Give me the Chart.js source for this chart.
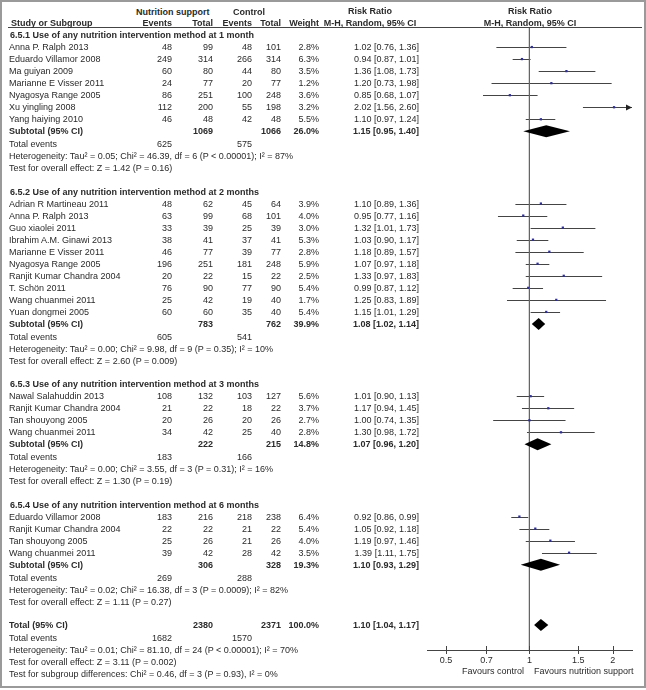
<!DOCTYPE html>
<html>
<head>
<meta charset="utf-8">
<script src="https://cdn.jsdelivr.net/npm/chart.js@4/dist/chart.umd.min.js"></script>
<style>
  body { margin: 0; background: #fff; }
  #wrap { position: relative; width: 646px; height: 690px; overflow: hidden; font-family: "Liberation Sans", Arial, sans-serif; font-size: 9px; color: #2a2a2a; }
  #frame { position: absolute; left: 0; top: 0; width: 642px; height: 684px; border: 2px solid #9a9a9a; }
  #hline { position: absolute; left: 8px; top: 27px; width: 634px; height: 1px; background: #444; }
  .t { position: absolute; height: 12px; line-height: 12px; white-space: nowrap; }
  .b { font-weight: bold; }
  #plot { position: absolute; left: 420px; top: 0; }
</style>
</head>
<body>
<div id="wrap">
  <div id="frame"></div>
  <div id="hline"></div>
  <div id="plot"><canvas id="forest" width="226" height="690"></canvas></div>
</div>
<script>
// ── data ──
const groupTitles = [
  '6.5.1 Use of any nutrition intervention method at 1 month',
  '6.5.2 Use of any nutrition intervention method at 2 months',
  '6.5.3 Use of any nutrition intervention method at 3 months',
  '6.5.4 Use of any nutrition intervention method at 6 months',
];
const studyGroup = [0,0,0,0,0,0,0, 1,1,1,1,1,1,1,1,1,1, 2,2,2,2, 3,3,3,3];
const studyNames = [
  'Anna P. Ralph 2013', 'Eduardo Villamor 2008', 'Ma guiyan 2009', 'Marianne E Visser 2011',
  'Nyagosya Range 2005', 'Xu yingling 2008', 'Yang haiying 2010',
  'Adrian R Martineau 2011', 'Anna P. Ralph 2013', 'Guo xiaolei 2011', 'Ibrahim A.M. Ginawi 2013',
  'Marianne E Visser 2011', 'Nyagosya Range 2005', 'Ranjit Kumar Chandra 2004', 'T. Schön 2011',
  'Wang chuanmei  2011', 'Yuan dongmei 2005',
  'Nawal Salahuddin 2013', 'Ranjit Kumar Chandra 2004', 'Tan shouyong 2005', 'Wang chuanmei  2011',
  'Eduardo Villamor 2008', 'Ranjit Kumar Chandra 2004', 'Tan shouyong 2005', 'Wang chuanmei  2011',
];
const nsEvents = [48, 249, 60, 24, 86, 112, 46,  48, 63, 33, 38, 46, 196, 20, 76, 25, 60,  108, 21, 20, 34,  183, 22, 25, 39];
const nsTotal  = [99, 314, 80, 77, 251, 200, 48,  62, 99, 39, 41, 77, 251, 22, 90, 42, 60,  132, 22, 26, 42,  216, 22, 26, 42];
const ctEvents = [48, 266, 44, 20, 100, 55, 42,  45, 68, 25, 37, 39, 181, 15, 77, 19, 35,  103, 18, 20, 25,  218, 21, 21, 28];
const ctTotal  = [101, 314, 80, 77, 248, 198, 48,  64, 101, 39, 41, 77, 248, 22, 90, 40, 40,  127, 22, 26, 40,  238, 22, 26, 42];
const weights  = ['2.8%','6.3%','3.5%','1.2%','3.6%','3.2%','5.5%',
  '3.9%','4.0%','3.0%','5.3%','2.8%','5.9%','2.5%','5.4%','1.7%','5.4%',
  '5.6%','3.7%','2.7%','2.8%',  '6.4%','5.4%','4.0%','3.5%'];
const rr   = [1.02, 0.94, 1.36, 1.20, 0.85, 2.02, 1.10,  1.10, 0.95, 1.32, 1.03, 1.18, 1.07, 1.33, 0.99, 1.25, 1.15,  1.01, 1.17, 1.00, 1.30,  0.92, 1.05, 1.19, 1.39];
const ciLo = [0.76, 0.87, 1.08, 0.73, 0.68, 1.56, 0.97,  0.89, 0.77, 1.01, 0.90, 0.89, 0.97, 0.97, 0.87, 0.83, 1.01,  0.90, 0.94, 0.74, 0.98,  0.86, 0.92, 0.97, 1.11];
const ciHi = [1.36, 1.01, 1.73, 1.98, 1.07, 2.60, 1.24,  1.36, 1.16, 1.73, 1.17, 1.57, 1.18, 1.83, 1.12, 1.89, 1.29,  1.13, 1.45, 1.35, 1.72,  0.99, 1.18, 1.46, 1.75];

const subNsTotal  = [1069, 783, 222, 306];
const subCtTotal  = [1066, 762, 215, 328];
const subWeight   = ['26.0%', '39.9%', '14.8%', '19.3%'];
const subRR       = [1.15, 1.08, 1.07, 1.10];
const subLo       = [0.95, 1.02, 0.96, 0.93];
const subHi       = [1.40, 1.14, 1.20, 1.29];
const subNsEvents = [625, 605, 183, 269];
const subCtEvents = [575, 541, 166, 288];
const subHet = [
  'Heterogeneity: Tau² = 0.05; Chi² = 46.39, df = 6 (P < 0.00001); I² = 87%',
  'Heterogeneity: Tau² = 0.00; Chi² = 9.98, df = 9 (P = 0.35); I² = 10%',
  'Heterogeneity: Tau² = 0.00; Chi² = 3.55, df = 3 (P = 0.31); I² = 16%',
  'Heterogeneity: Tau² = 0.02; Chi² = 16.38, df = 3 (P = 0.0009); I² = 82%',
];
const subTest = [
  'Test for overall effect: Z = 1.42 (P = 0.16)',
  'Test for overall effect: Z = 2.60 (P = 0.009)',
  'Test for overall effect: Z = 1.30 (P = 0.19)',
  'Test for overall effect: Z = 1.11 (P = 0.27)',
];

const totNsTotal = 2380, totCtTotal = 2371, totWeight = '100.0%';
const totRR = 1.10, totLo = 1.04, totHi = 1.17;
const totNsEvents = 1682, totCtEvents = 1570;
const totLines = [
  'Heterogeneity: Tau² = 0.01; Chi² = 81.10, df = 24 (P < 0.00001); I² = 70%',
  'Test for overall effect: Z = 3.11 (P = 0.002)',
  'Test for subgroup differences: Chi² = 0.46, df = 3 (P = 0.93), I² = 0%',
];

const xTicks = [0.5, 0.7, 1, 1.5, 2];
const xMin = 0.427, xMax = 2.345;

// ── layout ──
const ROW0 = 35, ROWH = 12.04;
const PLOT_TOP = 28, PLOT_BOTTOM = 650;
const rowY = r => ROW0 + ROWH * r;
const ci = (m, l, h) => `${m.toFixed(2)} [${l.toFixed(2)}, ${h.toFixed(2)}]`;

const wrap = document.getElementById('wrap');
function txt(s, x, y, align, bold) {
  const d = document.createElement('div');
  d.className = 't' + (bold ? ' b' : '');
  d.textContent = s;
  d.style.top = (y - 6) + 'px';
  if (align === 'right') { d.style.left = (x - 300) + 'px'; d.style.width = '300px'; d.style.textAlign = 'right'; }
  else if (align === 'center') { d.style.left = (x - 150) + 'px'; d.style.width = '300px'; d.style.textAlign = 'center'; }
  else d.style.left = x + 'px';
  wrap.appendChild(d);
}

// column right edges
const C_NAME = 9, C_NE = 172, C_NT = 213, C_CE = 252, C_CT = 281, C_W = 319, C_CI = 419;

// header
txt('Nutrition support', 136, 12, 'left', true);
txt('Control', 233, 12, 'left', true);
txt('Study or Subgroup', 11, 23, 'left', true);
txt('Events', C_NE, 23, 'right', true);
txt('Total', C_NT, 23, 'right', true);
txt('Events', C_CE, 23, 'right', true);
txt('Total', C_CT, 23, 'right', true);
txt('Weight', C_W, 23, 'right', true);
txt('Risk Ratio', 370, 11, 'center', true);
txt('M-H, Random, 95% CI', 370, 23, 'center', true);
txt('Risk Ratio', 530, 11, 'center', true);
txt('M-H, Random, 95% CI', 530, 23, 'center', true);

// rows
const studyRow = [], subRow = [];
let r = 0;
groupTitles.forEach((title, g) => {
  txt(title, 10, rowY(r++), 'left', true);
  studyNames.forEach((n, i) => {
    if (studyGroup[i] !== g) return;
    const y = rowY(r);
    studyRow[i] = r++;
    txt(n, C_NAME, y);
    txt(String(nsEvents[i]), C_NE, y, 'right');
    txt(String(nsTotal[i]), C_NT, y, 'right');
    txt(String(ctEvents[i]), C_CE, y, 'right');
    txt(String(ctTotal[i]), C_CT, y, 'right');
    txt(weights[i], C_W, y, 'right');
    txt(ci(rr[i], ciLo[i], ciHi[i]), C_CI, y, 'right');
  });
  let y = rowY(r);
  subRow[g] = r++;
  txt('Subtotal (95% CI)', C_NAME, y, 'left', true);
  txt(String(subNsTotal[g]), C_NT, y, 'right', true);
  txt(String(subCtTotal[g]), C_CT, y, 'right', true);
  txt(subWeight[g], C_W, y, 'right', true);
  txt(ci(subRR[g], subLo[g], subHi[g]), C_CI, y, 'right', true);
  y = rowY(r++) + 1;
  txt('Total events', C_NAME, y);
  txt(String(subNsEvents[g]), C_NE, y, 'right');
  txt(String(subCtEvents[g]), C_CE, y, 'right');
  txt(subHet[g], C_NAME, rowY(r++) + 1);
  txt(subTest[g], C_NAME, rowY(r++) + 1);
  r++;
});
const totRow = r++;
let yT = rowY(totRow);
txt('Total (95% CI)', C_NAME, yT, 'left', true);
txt(String(totNsTotal), C_NT, yT, 'right', true);
txt(String(totCtTotal), C_CT, yT, 'right', true);
txt(totWeight, C_W, yT, 'right', true);
txt(ci(totRR, totLo, totHi), C_CI, yT, 'right', true);
yT = rowY(r++) + 1;
txt('Total events', C_NAME, yT);
txt(String(totNsEvents), C_NE, yT, 'right');
txt(String(totCtEvents), C_CE, yT, 'right');
totLines.forEach(s => txt(s, C_NAME, rowY(r++) + 1));

txt('Favours control', 524, 671, 'right');
txt('Favours nutrition support', 534, 671, 'left');

// ── chart ──
const yMin = (PLOT_TOP - ROW0) / ROWH;
const yMax = (PLOT_BOTTOM - ROW0) / ROWH;

const diamonds = subRR.map((m, g) => ({ m, lo: subLo[g], hi: subHi[g], row: subRow[g] }))
  .concat([{ m: totRR, lo: totLo, hi: totHi, row: totRow }]);

const forestPlugin = {
  id: 'forest',
  beforeDatasetsDraw(chart) {
    const { ctx, scales: { x, y }, chartArea } = chart;
    ctx.save();
    ctx.strokeStyle = '#444';
    ctx.fillStyle = '#222';
    ctx.lineWidth = 1;
    rr.forEach((m, i) => {
      const py = Math.round(y.getPixelForValue(studyRow[i])) + 0.5;
      const lo = Math.max(ciLo[i], xMin), hi = Math.min(ciHi[i], xMax);
      let x1 = x.getPixelForValue(lo), x2 = x.getPixelForValue(hi);
      ctx.beginPath(); ctx.moveTo(x1, py); ctx.lineTo(x2, py); ctx.stroke();
      if (ciHi[i] > xMax) {
        ctx.beginPath();
        ctx.moveTo(chartArea.right, py);
        ctx.lineTo(chartArea.right - 6, py - 3);
        ctx.lineTo(chartArea.right - 6, py + 3);
        ctx.closePath(); ctx.fill();
      }
    });
    ctx.restore();
  },
  afterDatasetsDraw(chart) {
    const { ctx, scales: { x, y } } = chart;
    ctx.save();
    ctx.fillStyle = '#000';
    diamonds.forEach(d => {
      const py = y.getPixelForValue(d.row);
      ctx.beginPath();
      ctx.moveTo(x.getPixelForValue(d.lo), py);
      ctx.lineTo(x.getPixelForValue(d.m), py - 6);
      ctx.lineTo(x.getPixelForValue(d.hi), py);
      ctx.lineTo(x.getPixelForValue(d.m), py + 6);
      ctx.closePath();
      ctx.fill();
    });
    // tick marks crossing the axis
    ctx.strokeStyle = '#444';
    ctx.lineWidth = 1;
    const ay = x.top;
    xTicks.forEach(v => {
      const px = Math.round(x.getPixelForValue(v)) + 0.5;
      ctx.beginPath(); ctx.moveTo(px, ay - 4); ctx.lineTo(px, ay + 4); ctx.stroke();
    });
    ctx.restore();
  },
};

new Chart(document.getElementById('forest'), {
  type: 'scatter',
  plugins: [forestPlugin],
  data: {
    datasets: [
      {
        label: 'Risk ratio',
        data: rr.map((m, i) => ({ x: m, y: studyRow[i] })),
        pointStyle: 'rect',
        pointRadius: 1.6,
        backgroundColor: '#2e2e96',
        borderColor: '#2e2e96',
        borderWidth: 0,
      },
      {
        type: 'line',
        label: 'No effect',
        data: [{ x: 1, y: yMin }, { x: 1, y: yMax }],
        borderColor: '#666',
        borderWidth: 1,
        pointRadius: 0,
      },
    ],
  },
  options: {
    responsive: false,
    animation: false,
    events: [],
    layout: { padding: { left: 7, right: 14, top: PLOT_TOP, bottom: 0 } },
    plugins: { legend: { display: false }, tooltip: { enabled: false } },
    scales: {
      x: {
        type: 'logarithmic',
        position: 'bottom',
        min: xMin, max: xMax,
        afterBuildTicks: s => { s.ticks = xTicks.map(v => ({ value: v })); },
        afterFit: s => { s.height = 690 - PLOT_BOTTOM; },
        grid: { display: false, drawTicks: false },
        border: { display: true, color: '#444', width: 1 },
        ticks: {
          autoSkip: false, maxRotation: 0, padding: 5,
          color: '#2a2a2a',
          font: { family: '"Liberation Sans", Arial, sans-serif', size: 9 },
          callback: v => String(v),
        },
      },
      y: { type: 'linear', reverse: true, min: yMin, max: yMax, display: false },
    },
  },
});
</script>
</body>
</html>
